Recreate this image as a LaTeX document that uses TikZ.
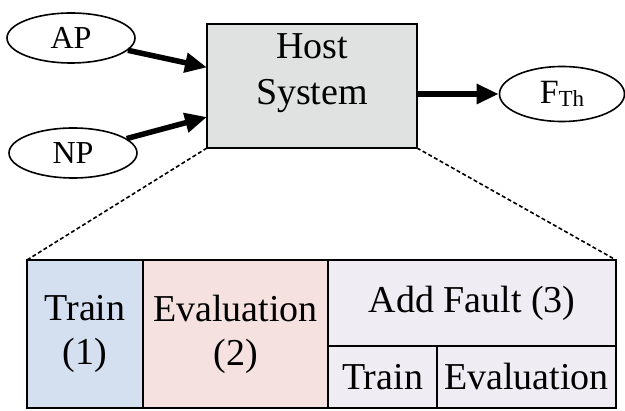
\documentclass[tikz,border=0pt]{standalone}
\usepackage{fontspec}
\setmainfont{Liberation Serif}
\usetikzlibrary{shapes.geometric,arrows.meta,calc}
\definecolor{hostgray}{HTML}{E0E2E1}
\definecolor{cellblue}{HTML}{D4DFF0}
\definecolor{cellpink}{HTML}{F5E2E0}
\definecolor{celllav}{HTML}{EFECF4}
\tikzset{
  oval/.style={draw, ellipse, line width=1.6pt, inner sep=0pt, minimum width=128pt, minimum height=50pt, font=\fontsize{32}{36}\selectfont},
  bigarrow/.style={line width=5.5pt, -{Triangle[length=22pt,width=19pt]}},
  cell/.style={draw, rectangle, line width=1.6pt, inner sep=0pt, outer sep=0pt, anchor=north west, align=center, font=\fontsize{38}{44}\selectfont},
  zoomline/.style={line width=1.6pt, dash pattern=on 4pt off 2.5pt}
}
\begin{document}
\begin{tikzpicture}[x=1pt,y=-1pt]
\useasboundingbox (0,0) rectangle (625,411);
% host box
\node[draw, rectangle, line width=1.6pt, fill=hostgray, anchor=north west, minimum width=210pt, minimum height=124pt, inner sep=0pt, outer sep=0pt] (host) at (207,24) {};
\node[align=center, inner sep=0pt, font=\fontsize{38}{46}\selectfont] (hostlabel) at (312,73) {Host\\System};
% inputs / output
\node[oval] (AP) at (71,38) {AP};
\node[oval] (NP) at (73,153) {NP};
\node[oval, minimum width=125pt, minimum height=55pt] (F) at (562,94) {\fontsize{34}{36}\selectfont F\raisebox{-3pt}{\fontsize{23}{24}\selectfont Th}};
\draw[bigarrow] (AP) -- ($(host.north west)!0.35!(host.south west)$);
\draw[bigarrow] (NP) -- ($(host.north west)!0.75!(host.south west)$);
\draw[bigarrow] (host.east |- F) -- (F);
% table
\node[cell, fill=cellblue, minimum width=116pt, minimum height=148pt] (train) at (27,260) {Train\\(1)};
\node[cell, fill=cellpink, minimum width=185pt, minimum height=148pt] (eval) at (143,260) {Evaluation\\(2)};
\node[cell, fill=celllav, minimum width=288pt, minimum height=86pt] (addfault) at (328,260) {Add Fault (3)};
\node[cell, fill=celllav, minimum width=109pt, minimum height=62pt] (subtrain) at (328,346) {Train};
\node[cell, fill=celllav, minimum width=179pt, minimum height=62pt] (subeval) at (437,346) {Evaluation};
% zoom lines
\draw[zoomline] (host.south west) -- (train.north west);
\draw[zoomline] (host.south east) -- (addfault.north east);
\end{tikzpicture}
\end{document}
